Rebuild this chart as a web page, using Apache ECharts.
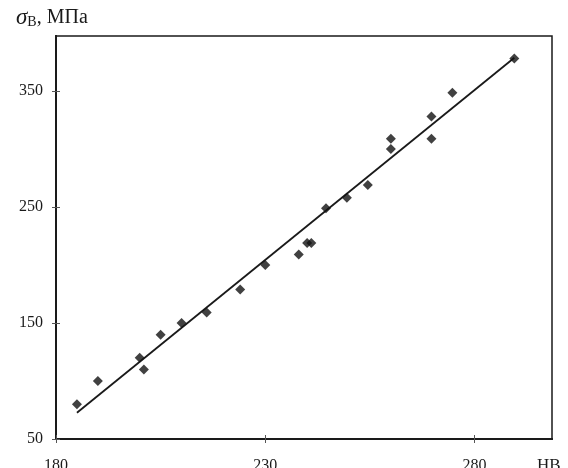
<!DOCTYPE html>
<html>
<head>
<meta charset="utf-8">
<script src="https://cdn.jsdelivr.net/npm/echarts@6/dist/echarts.min.js"></script>
<style>
html,body{margin:0;padding:0;background:#fff;}
#c{width:568px;height:468px;}
</style>
</head>
<body>
<div id="c"></div>
<script>
var hbValues = [185, 190, 200, 201, 205, 210, 216, 224, 230, 238, 240, 241, 244.5, 249.5, 254.5, 260, 260, 269.7, 269.7, 274.7, 289.5];
var sigmaValues = [80, 100, 120, 110, 140, 150, 159, 179, 200, 209, 219, 219, 249, 258, 269, 300, 309, 309, 328, 348.5, 378];
var fitX = [185, 289.5];
var fitY = [72.6, 378.7];
var xTicks = [180, 230, 280];
var yTicks = [50, 150, 250, 350];
var xMin = 180, xMax = 298.5, yMin = 50, yMax = 397.5;

var pts = hbValues.map(function (x, i) { return [x, sigmaValues[i]]; });
var fit = fitX.map(function (x, i) { return [x, fitY[i]]; });

var font = 'Liberation Serif';
var ink = '#1a1a1a';

function xAxisDef(inside, labels) {
  return {
    type: 'value', min: xMin, max: xMax, position: 'bottom',
    axisLine: { show: true, lineStyle: { color: ink, width: 2 } },
    axisTick: { show: true, inside: inside, length: 4, customValues: xTicks, lineStyle: { color: '#555', width: 1 } },
    axisLabel: { show: labels, customValues: xTicks, margin: 19, color: ink, fontFamily: font, fontSize: 16 },
    splitLine: { show: false }
  };
}
function yAxisDef(inside, labels) {
  return {
    type: 'value', min: yMin, max: yMax, position: 'left',
    axisLine: { show: true, lineStyle: { color: ink, width: 2 } },
    axisTick: { show: true, inside: inside, length: 4, customValues: yTicks, lineStyle: { color: '#555', width: 1 } },
    axisLabel: { show: labels, customValues: yTicks, margin: 13, color: ink, fontFamily: font, fontSize: 16 },
    splitLine: { show: false }
  };
}

var chart = echarts.init(document.getElementById('c'), null, { renderer: 'canvas' });
chart.setOption({
  animation: false,
  backgroundColor: '#fff',
  grid: { left: 56, right: 16, top: 36, bottom: 29, show: true, borderColor: ink, borderWidth: 1.5, containLabel: false, outerBoundsMode: 'none' },
  xAxis: [xAxisDef(false, true), xAxisDef(true, false)],
  yAxis: [yAxisDef(false, true), yAxisDef(true, false)],
  graphic: [
    {
      type: 'text', left: 16, top: 6,
      style: {
        text: '{s|σ}{b|В}{t|, МПа}',
        rich: {
          s: { fontFamily: font, fontStyle: 'italic', fontSize: 23, fill: ink },
          b: { fontFamily: font, fontSize: 14, fill: ink, verticalAlign: 'bottom', padding: [9, 0, 0, 0] },
          t: { fontFamily: font, fontSize: 20, fill: ink }
        }
      }
    },
    {
      type: 'text', left: 537, top: 457,
      style: { text: 'HB', fontFamily: font, fontSize: 17, fill: ink }
    }
  ],
  series: [
    {
      type: 'line', data: fit, xAxisIndex: 0, yAxisIndex: 0,
      showSymbol: false, lineStyle: { color: ink, width: 1.8 }, z: 2
    },
    {
      type: 'scatter', data: pts, xAxisIndex: 0, yAxisIndex: 0,
      symbol: 'diamond', symbolSize: 10, itemStyle: { color: '#111' }, z: 3
    }
  ]
});
</script>
</body>
</html>
